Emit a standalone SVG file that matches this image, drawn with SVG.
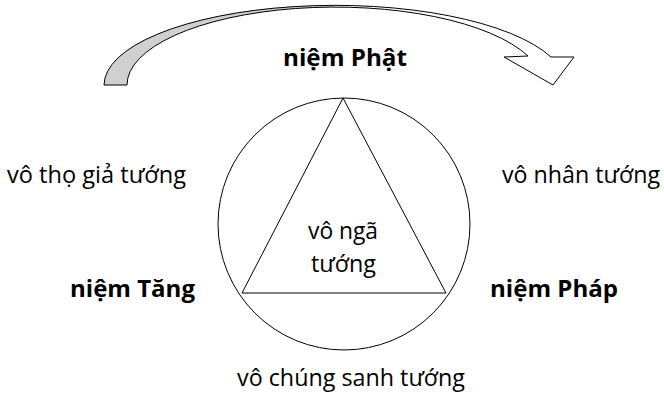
<svg xmlns="http://www.w3.org/2000/svg" width="664" height="400" viewBox="0 0 664 400">
  <style>
    .t { font-family: "Open Sans", "Liberation Sans", sans-serif; font-size: 24px; fill: #000; }
    .b { font-weight: bold; font-size: 24px; }
    .ln { fill: none; stroke: #000; stroke-width: 1; }
  </style>
  <rect width="664" height="400" fill="#fff"/>
  <g id="arrow">
    <path d="M104,85 A231,80 0 0 1 335,5 L335,7 A208,78 0 0 0 127,85 Z" fill="#d0d0d0" stroke="none"/>
    <path d="M335,5 A231,80 0 0 1 551,57 L574,57 L553,85 L504,57 L528,56 A208,78 0 0 0 335,7 Z" fill="#fff" stroke="none"/>
    <path class="ln" d="M104,85 A231,80 0 0 1 551,57 L574,57 L553,85 L504,57 L528,56 A208,78 0 0 0 127,85 Z"/>
  </g>
  <g id="circle">
    <circle class="ln" cx="344" cy="224" r="126"/>
  </g>
  <g id="triangle">
    <polygon class="ln" points="343,98 446,293 242,293"/>
  </g>
  <g id="center">
    <text class="t" x="308" y="239" textLength="70" lengthAdjust="spacingAndGlyphs">vô ngã</text>
    <text class="t" x="311" y="272" textLength="65" lengthAdjust="spacingAndGlyphs">tướng</text>
  </g>
  <g id="niem-phat"><text class="t b" x="283" y="66" textLength="124" lengthAdjust="spacingAndGlyphs">niệm Phật</text></g>
  <g id="vo-tho-gia"><text class="t" x="7" y="183" textLength="179" lengthAdjust="spacingAndGlyphs">vô thọ giả tướng</text></g>
  <g id="vo-nhan"><text class="t" x="502" y="183" textLength="158" lengthAdjust="spacingAndGlyphs">vô nhân tướng</text></g>
  <g id="niem-tang"><text class="t b" x="70" y="297" textLength="125" lengthAdjust="spacingAndGlyphs">niệm Tăng</text></g>
  <g id="niem-phap"><text class="t b" x="490" y="297" textLength="128" lengthAdjust="spacingAndGlyphs">niệm Pháp</text></g>
  <g id="vo-chung-sanh"><text class="t" x="237" y="386" textLength="228" lengthAdjust="spacingAndGlyphs">vô chúng sanh tướng</text></g>
</svg>
